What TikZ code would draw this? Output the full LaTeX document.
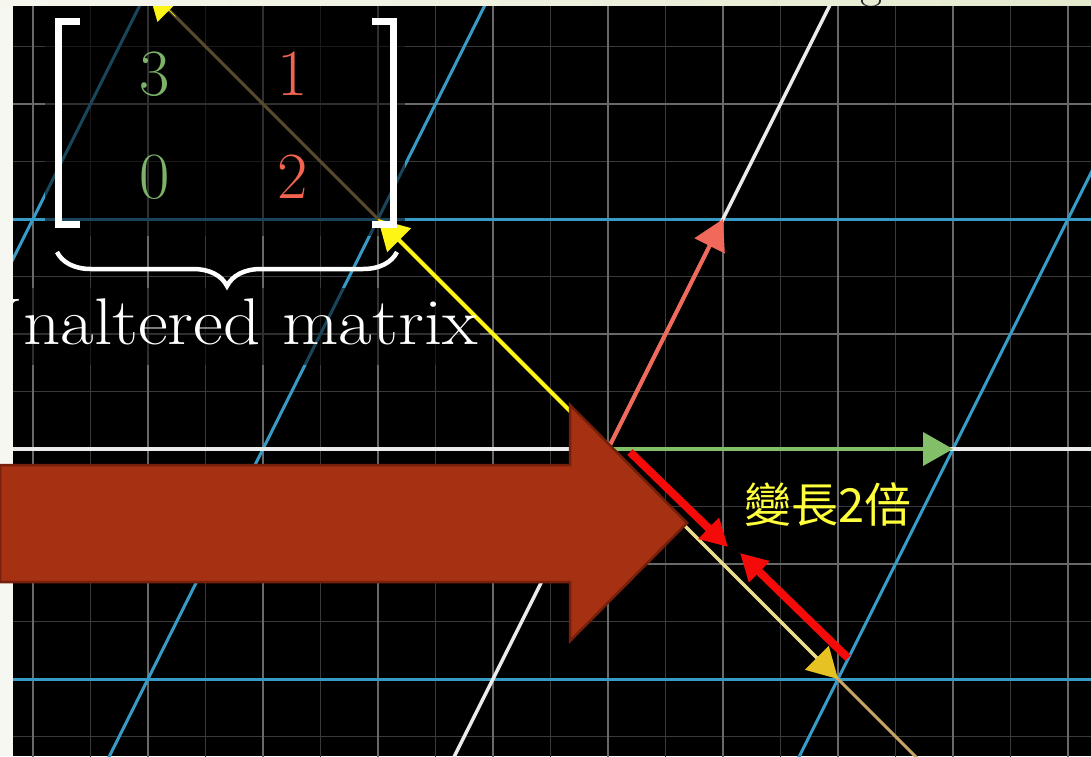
\documentclass[tikz,border=0pt]{standalone}
\usepackage{fontspec}
\usepackage{graphicx}
\newfontfamily\cjkfont{Noto Sans CJK TC}
\usepackage{tikz}
\usetikzlibrary{arrows.meta, calc, decorations.pathreplacing}
\definecolor{creamside}{RGB}{247,247,242}
\definecolor{creamleft}{RGB}{246,246,238}
\definecolor{creamright}{RGB}{228,234,206}
\definecolor{gridmain}{RGB}{105,105,105}
\definecolor{gridhalf}{RGB}{58,58,58}
\definecolor{tblue}{RGB}{55,155,200}
\definecolor{axiswhite}{RGB}{235,235,235}
\definecolor{vgreen}{RGB}{131,190,105}
\definecolor{vred}{RGB}{240,105,90}
\definecolor{mgreen}{RGB}{125,178,105}
\definecolor{mred}{RGB}{240,100,80}
\definecolor{vyellow}{RGB}{255,245,20}
\definecolor{paleyellow}{RGB}{232,220,140}
\definecolor{goldtip}{RGB}{230,195,35}
\definecolor{spantan}{RGB}{200,165,100}
\definecolor{arrowbrown}{RGB}{166,48,18}
\definecolor{arrowedge}{RGB}{118,32,12}
\definecolor{hintred}{RGB}{245,10,10}
\definecolor{noteyellow}{RGB}{255,255,60}
\tikzset{
  halfline/.style={gridhalf, line width=1.5pt},
  mainline/.style={gridmain, line width=2pt},
  tline/.style={tblue, line width=3pt},
  axisline/.style={axiswhite, line width=3.5pt},
  vec/.style={line width=4pt, -{Triangle[length=30pt, width=33pt]}},
  bracketline/.style={white, line width=7pt, line join=miter},
  entrytxt/.style={font=\fontsize{66}{70}\selectfont, inner sep=0pt, anchor=base},
  hintarrow/.style={hintred, line width=8pt, -{Triangle[length=27pt, width=28pt]}},
  bigarrow/.style={fill=arrowbrown, draw=arrowedge, line width=2.5pt, line join=miter},
  dimbox/.style={fill=black, fill opacity=0.55}
}

\begin{document}
\begin{tikzpicture}[x=1pt, y=-1pt]
  \useasboundingbox (0,0) rectangle (1091,756);
  % Page edges around the screenshot
  \fill[creamside] (0,0) rectangle (1091,756);
  \shade[left color=creamleft, right color=creamright] (0,0) rectangle (1091,6);
  \node[text=black!85, font=\fontsize{48}{50}\selectfont, anchor=base, inner sep=0pt] (topg) at (872,-3) {g};
  \fill[black] (13,6) rectangle (1091,756);

  \begin{scope}
    \clip (13,6) rectangle (1091,756);

    % Plane, unit = 115px, origin at (608,449)
    \begin{scope}[shift={(608,449)}, x=115pt, y=115pt]
      % background grid
      \foreach \k in {-5,...,3} \draw[halfline] (\k+0.5,-3) -- (\k+0.5,4);
      \foreach \k in {-3,...,3} \draw[halfline] (-6,\k+0.5) -- (5,\k+0.5);
      \foreach \k in {-5,...,4} \draw[mainline] (\k,-3) -- (\k,4);
      \foreach \k in {-2,...,3} \draw[mainline] (-6,\k) -- (5,\k);

      % transformed grid
      \foreach \k in {-2,-1,1} \draw[tline] (3*\k-1.5,-3) -- (3*\k+2,4);
      \draw[tline] (-6,2) -- (5,2);
      \draw[tline] (-6,-2) -- (5,-2);
      \draw[axisline] (-6,0) -- (5,0);
      \draw[axisline] (-1.5,-3) -- (2,4);

      \coordinate (O) at (0,0);
      \coordinate (I3) at (3,0);
      \coordinate (J12) at (1,2);
      \coordinate (Up) at (-2,2);
      \coordinate (Dn) at (2,-2);
      \coordinate (Far) at (-4,4);
      \coordinate (Tail) at (3,-3);

      % span of the eigenvector
      \draw[spantan, line width=3pt] (Far) -- (Tail);
    \end{scope}

    % backgrounds of matrix and label
    \fill[dimbox] (45,6) rectangle (405,236);
    \fill[dimbox] (13,288) rectangle (480,365);

    % vectors
    \draw[vec, vgreen] (O) -- (I3);
    \draw[vec, vred] (O) -- (J12);
    \draw[vec, vyellow] (O) -- (Up);
    \draw[line width=3.5pt, paleyellow, -{Triangle[length=30pt, width=33pt, color=goldtip]}] (O) -- (Dn);
    \draw[line width=0.4pt, vyellow, -{Triangle[length=30pt, width=33pt]}] ($(O)!0.94!(Far)$) -- (Far);

    % matrix
    \draw[bracketline] (80,21.5) -- (58.5,21.5) -- (58.5,224.5) -- (80,224.5);
    \draw[bracketline] (372,21.5) -- (393.5,21.5) -- (393.5,224.5) -- (372,224.5);
    \node[entrytxt, text=mgreen] (a11) at (155,95) {3};
    \node[entrytxt, text=mred] (a12) at (293,95) {1};
    \node[entrytxt, text=mgreen] (a21) at (155,198) {0};
    \node[entrytxt, text=mred] (a22) at (293,198) {2};
    \draw[white, line width=4.5pt, decorate, decoration={brace, mirror, amplitude=34pt}] (57,252) -- (397,252);
    \node[entrytxt, anchor=base east, text=white] (label) at (478,344) {\scalebox{1.106}[1]{Unaltered matrix}};
  \end{scope}

  % Block arrow
  \draw[bigarrow] (0,465) -- (570,465) -- (570,405) -- (687,523) -- (570,641) -- (570,582) -- (0,582) -- cycle;

  % Hint arrows
  \coordinate (h1a) at (630,452);
  \coordinate (h1b) at (728,547);
  \coordinate (h2a) at (848,658);
  \coordinate (h2b) at (740,553);
  \draw[hintarrow] (h1a) -- (h1b);
  \draw[hintarrow] (h2a) -- (h2b);
  \node[text=noteyellow, font=\cjkfont\fontsize{47}{52}\selectfont, inner sep=0pt] (note) at (828,505) {變長2倍};
\end{tikzpicture}
\end{document}
